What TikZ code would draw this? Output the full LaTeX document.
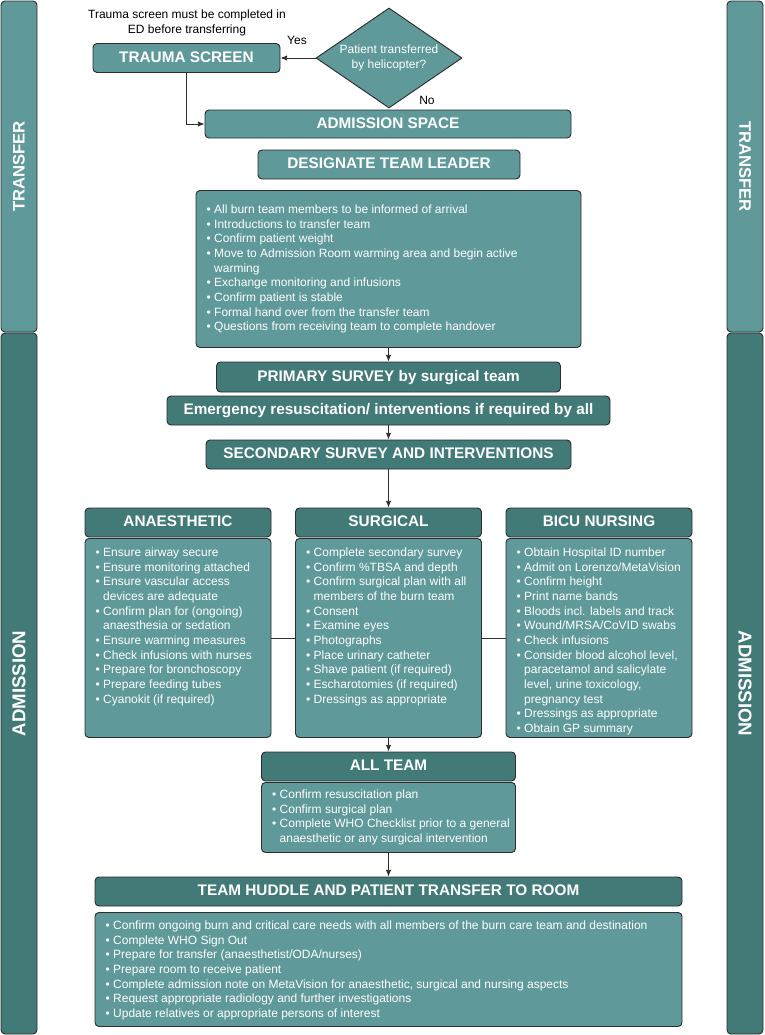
\documentclass[tikz,border=0pt]{standalone}
\usepackage{fontspec}
\setmainfont{Liberation Sans}
\usetikzlibrary{shapes.geometric,arrows.meta}

\definecolor{tealpale}{RGB}{95,153,153}
\definecolor{tealdeep}{RGB}{66,122,120}
\definecolor{rim}{RGB}{45,45,45}

% one bullet item, later lines hang under the text
\newcommand{\bl}[1]{\par\hangindent=0.63em\hangafter=1\strut\textbullet\ #1}
% list box: width, height, top pad, items
\newcommand{\blist}[4]{\makebox[#1][l]{\hspace*{8pt}\parbox[t][#2][t]{600pt}{\vspace*{#3}\raggedright #4}}}

\begin{document}
\begin{tikzpicture}[x=0.75pt,y=-0.75pt,
  font=\fontsize{9}{11}\selectfont,
  lite/.style={draw=rim,fill=tealpale,rounded corners=3pt,line width=0.7pt,text=white,inner sep=0pt},
  deep/.style={lite,fill=tealdeep},
  head/.style={font=\bfseries\fontsize{11.5}{13}\selectfont,text height=8.2pt,text depth=1.5pt},
  bar/.style={font=\bfseries\fontsize{12.5}{14}\selectfont,minimum width=#1,minimum height=27pt},
  heli/.style={diamond,draw=rim,fill=tealpale,line width=0.7pt,aspect=1.46,inner sep=0pt,
    minimum width=109.5pt,minimum height=75pt,text=white,align=center},
  arr/.style={draw=rim,line width=0.6pt,-{Latex[length=5pt,width=4pt]}},
  link/.style={draw=rim,line width=0.6pt}]
\useasboundingbox (0,0) rectangle (764,1035);

% side bars
\node[lite,bar=248.25pt,rotate=90] (trl) at (19,166.5) {TRANSFER};
\node[deep,bar=525.75pt,rotate=90,font=\bfseries\fontsize{14}{16}\selectfont] (adl) at (19,683.5) {ADMISSION};
\node[lite,bar=248.25pt,rotate=-90] (trr) at (745,166.5) {TRANSFER};
\node[deep,bar=525.75pt,rotate=-90,font=\bfseries\fontsize{14}{16}\selectfont] (adr) at (745,683.5) {ADMISSION};

% transfer part
\node[align=center] (note) at (187,23) {Trauma screen must be completed in\\ED before transferring};
\node[lite,head,minimum width=140.25pt,minimum height=21.75pt] (trauma) at (186.5,58) {TRAUMA SCREEN};
\node[heli] (heli) at (389,58) {Patient transferred\\by helicopter?};
\node (yes) at (297,40) {Yes};
\node (no) at (427,100) {No};
\node[lite,head,minimum width=274.5pt,minimum height=21pt] (adm) at (388,124) {ADMISSION SPACE};
\node[lite,head,minimum width=196.5pt,minimum height=21.75pt] (leader) at (389,164.5) {DESIGNATE TEAM LEADER};
\node[lite,anchor=north] (tbody) at (388.5,190) {\blist{288.75pt}{117.75pt}{9.5pt}{%
  \bl{All burn team members to be informed of arrival}
  \bl{Introductions to transfer team}
  \bl{Confirm patient weight}
  \bl{Move to Admission Room warming area and begin active\newline warming}
  \bl{Exchange monitoring and infusions}
  \bl{Confirm patient is stable}
  \bl{Formal hand over from the transfer team}
  \bl{Questions from receiving team to complete handover}}};

\draw[arr] (heli.west) -- (trauma.east);
\draw[arr] (trauma.south) |- (adm.west);

% surveys
\node[deep,head,minimum width=258pt,minimum height=22.5pt] (prim) at (388.5,377) {PRIMARY SURVEY by surgical team};
\node[deep,head,minimum width=332.25pt,minimum height=21.75pt] (emer) at (388.5,410.5) {Emergency resuscitation/ interventions if required by all};
\node[deep,head,minimum width=273.75pt,minimum height=21.75pt] (sec) at (388.5,454.5) {SECONDARY SURVEY AND INTERVENTIONS};

\draw[arr] (tbody) -- (prim);
\draw[arr] (emer) -- (sec);

% three teams
\node[deep,head,minimum width=139.5pt,minimum height=21.75pt] (ahead) at (178,522.5) {ANAESTHETIC};
\node[deep,head,minimum width=139.5pt,minimum height=21.75pt] (shead) at (388.5,522.5) {SURGICAL};
\node[deep,head,minimum width=139.5pt,minimum height=21.75pt] (bhead) at (599,522.5) {BICU NURSING};

\node[lite,anchor=north] (abody) at (178,538) {\blist{139.5pt}{149.25pt}{5.8pt}{%
  \bl{Ensure airway secure}
  \bl{Ensure monitoring attached}
  \bl{Ensure vascular access\newline devices are adequate}
  \bl{Confirm plan for (ongoing)\newline anaesthesia or sedation}
  \bl{Ensure warming measures}
  \bl{Check infusions with nurses}
  \bl{Prepare for bronchoscopy}
  \bl{Prepare feeding tubes}
  \bl{Cyanokit (if required)}}};
\node[lite,anchor=north] (sbody) at (388.5,538) {\blist{139.5pt}{149.25pt}{5.8pt}{%
  \bl{Complete secondary survey}
  \bl{Confirm \%TBSA and depth}
  \bl{Confirm surgical plan with all\newline members of the burn team}
  \bl{Consent}
  \bl{Examine eyes}
  \bl{Photographs}
  \bl{Place urinary catheter}
  \bl{Shave patient (if required)}
  \bl{Escharotomies (if required)}
  \bl{Dressings as appropriate}}};
\node[lite,anchor=north] (bbody) at (599,538) {\blist{139.5pt}{149.25pt}{5.8pt}{%
  \bl{Obtain Hospital ID number}
  \bl{Admit on Lorenzo/MetaVision}
  \bl{Confirm height}
  \bl{Print name bands}
  \bl{Bloods incl. labels and track}
  \bl{Wound/MRSA/CoVID swabs}
  \bl{Check infusions}
  \bl{Consider blood alcohol level,\newline paracetamol and salicylate\newline level, urine toxicology,\newline pregnancy test}
  \bl{Dressings as appropriate}
  \bl{Obtain GP summary}}};

\draw[arr] (sec) -- (shead);
\draw[link] (abody) -- (sbody);
\draw[link] (sbody) -- (bbody);

% all team
\node[deep,head,minimum width=190.5pt,minimum height=21.75pt] (allhead) at (388.5,766.5) {ALL TEAM};
\node[lite,anchor=north] (allbody) at (388.5,782) {\blist{190.5pt}{52.5pt}{4.3pt}{%
  \bl{Confirm resuscitation plan}
  \bl{Confirm surgical plan}
  \bl{Complete WHO Checklist prior to a general\newline anaesthetic or any surgical intervention}}};

\draw[arr] (sbody) -- (allhead);

% huddle
\node[deep,head,minimum width=440.25pt,minimum height=21.75pt] (hudhead) at (388.5,891.5) {TEAM HUDDLE AND PATIENT TRANSFER TO ROOM};
\node[lite,anchor=north] (hudbody) at (388.5,912) {\blist{440.25pt}{85.5pt}{5pt}{%
  \bl{Confirm ongoing burn and critical care needs with all members of the burn care team and destination}
  \bl{Complete WHO Sign Out}
  \bl{Prepare for transfer (anaesthetist/ODA/nurses)}
  \bl{Prepare room to receive patient}
  \bl{Complete admission note on MetaVision for anaesthetic, surgical and nursing aspects}
  \bl{Request appropriate radiology and further investigations}
  \bl{Update relatives or appropriate persons of interest}}};

\draw[arr] (allbody) -- (hudhead);
\end{tikzpicture}
\end{document}
